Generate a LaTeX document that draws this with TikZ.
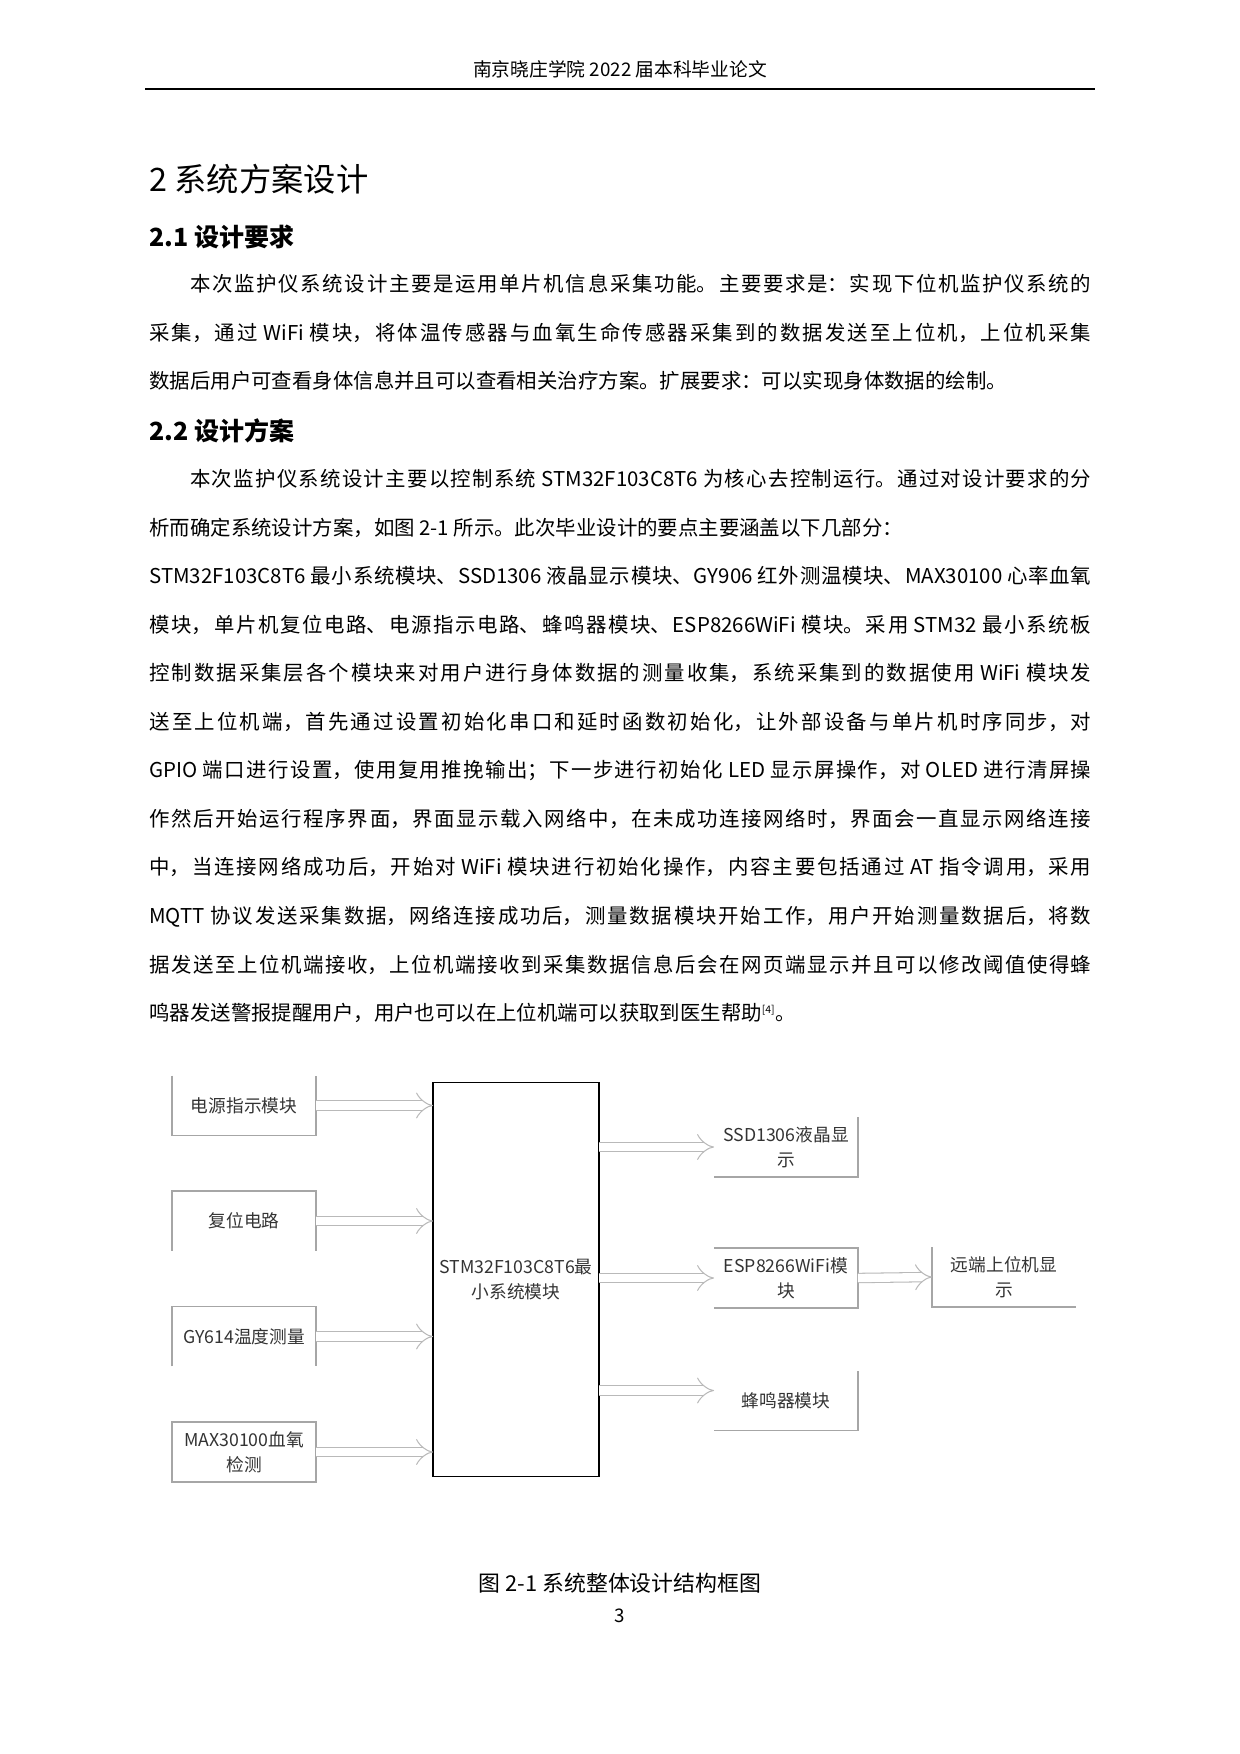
\documentclass[tikz,border=0pt]{standalone}
\usepackage{fontspec}
\setmainfont{Noto Sans CJK SC}
\usetikzlibrary{arrows.meta,calc}
\XeTeXlinebreaklocale "zh"
\XeTeXlinebreakskip=0pt plus 2pt minus 0.3pt
\begin{document}
\begin{tikzpicture}[x=0.48pt,y=-0.48pt,
  para/.style={anchor=north west,inner sep=0pt,text width={942*0.48pt},align=justify,font=\fontsize{9.8pt}{23.3pt}\selectfont},
  box/.style={minimum width={143*0.48pt},minimum height={59*0.48pt},inner sep=1pt,align=center,font=\fontsize{8.5pt}{12pt}\selectfont,text=black!80},
  edge/.style={draw=gray!70,line width=0.7pt},
  arr/.style={draw=gray!55,double=white,double distance=4pt,line width=0.5pt,-{Implies}}]
\useasboundingbox (0,0) rectangle (1240,1754);
\node[font=\fontsize{9pt}{11pt}\selectfont] (hdr) at (620,69) {南京晓庄学院 2022 届本科毕业论文};
\coordinate (hl) at (145,89); \coordinate (hr) at (1095,89);
\draw[line width=0.8pt] (hl) -- (hr);
\node[anchor=west,inner sep=0pt,font=\fontsize{15.5pt}{18pt}\selectfont] (h1) at (149,179) {2 系统方案设计};
\node[anchor=west,inner sep=0pt,font=\fontsize{12pt}{14pt}\selectfont\bfseries] (h2) at (149,237) {2.1 设计要求};
\node[para] (p1) at (149,274) {\hspace*{2em}本次监护仪系统设计主要是运用单片机信息采集功能。主要要求是：实现下位机监护仪系统的\linebreak
采集，通过 WiFi 模块，将体温传感器与血氧生命传感器采集到的数据发送至上位机，上位机采集\linebreak
数据后用户可查看身体信息并且可以查看相关治疗方案。扩展要求：可以实现身体数据的绘制。};
\node[anchor=west,inner sep=0pt,font=\fontsize{12pt}{14pt}\selectfont\bfseries] (h3) at (149,431) {2.2 设计方案};
\node[para] (p2) at (149,469) {\hspace*{2em}本次监护仪系统设计主要以控制系统 STM32F103C8T6 为核心去控制运行。通过对设计要求的分\linebreak
析而确定系统设计方案，如图 2-1 所示。此次毕业设计的要点主要涵盖以下几部分：\\
STM32F103C8T6 最小系统模块、SSD1306 液晶显示模块、GY906 红外测温模块、MAX30100 心率血氧\linebreak
模块，单片机复位电路、电源指示电路、蜂鸣器模块、ESP8266WiFi 模块。采用 STM32 最小系统板\linebreak
控制数据采集层各个模块来对用户进行身体数据的测量收集，系统采集到的数据使用 WiFi 模块发\linebreak
送至上位机端，首先通过设置初始化串口和延时函数初始化，让外部设备与单片机时序同步，对\linebreak
GPIO 端口进行设置，使用复用推挽输出；下一步进行初始化 LED 显示屏操作，对 OLED 进行清屏操\linebreak
作然后开始运行程序界面，界面显示载入网络中，在未成功连接网络时，界面会一直显示网络连接\linebreak
中，当连接网络成功后，开始对 WiFi 模块进行初始化操作，内容主要包括通过 AT 指令调用，采用\linebreak
MQTT 协议发送采集数据，网络连接成功后，测量数据模块开始工作，用户开始测量数据后，将数\linebreak
据发送至上位机端接收，上位机端接收到采集数据信息后会在网页端显示并且可以修改阈值使得蜂\linebreak
鸣器发送警报提醒用户，用户也可以在上位机端可以获取到医生帮助\textsuperscript{\tiny[4]}。};
% diagram
\node[box] (b1) at (244,1105.5) {电源指示模块};
\node[box] (b2) at (244,1221) {复位电路};
\node[box] (b3) at (244,1336.5) {GY614温度测量};
\node[box] (b4) at (244,1452) {MAX30100血氧\\检测};
\node[box,minimum width={165*0.48pt},minimum height={393*0.48pt}] (c) at (516,1279.5) {STM32F103C8T6最\\小系统模块};
\node[box] (r1) at (786,1147) {SSD1306液晶显\\示};
\node[box] (r2) at (786,1278) {ESP8266WiFi模\\块};
\node[box] (r3) at (786,1400.5) {蜂鸣器模块};
\node[box] (r4) at (1004,1277) {远端上位机显\\示};
\draw[edge] (b1.north west) -- (b1.south west) -- (b1.south east) -- (b1.north east);
\draw[edge] (b2.south west) -- (b2.north west) -- (b2.north east) -- (b2.south east);
\draw[edge] (b3.south west) -- (b3.north west) -- (b3.north east) -- (b3.south east);
\draw[edge] (b4.south west) rectangle (b4.north east);
\draw[line width=0.8pt] (c.south west) rectangle (c.north east);
\draw[edge] (r1.south west) -- (r1.south east) -- (r1.north east);
\draw[edge] (r2.north west) -- (r2.north east) -- (r2.south east) -- (r2.south west);
\draw[edge] (r3.south west) -- (r3.south east) -- (r3.north east);
\draw[edge] (r4.north west) -- (r4.south west) -- (r4.south east);
\draw[arr] (b1.east) -- (c.west |- b1.east);
\draw[arr] (b2.east) -- (c.west |- b2.east);
\draw[arr] (b3.east) -- (c.west |- b3.east);
\draw[arr] (b4.east) -- (c.west |- b4.east);
\draw[arr] (c.east |- r1.west) -- (r1.west);
\draw[arr] (c.east |- r2.west) -- (r2.west);
\coordinate (r3in) at ($(r3.west)+(0,-10)$);
\draw[arr] (c.east |- r3in) -- (r3in);
\draw[arr] (r2.east) -- (r4.west);
\node[font=\fontsize{10.5pt}{12pt}\selectfont] (cap) at (620,1583) {图 2-1 系统整体设计结构框图};
\node[font=\fontsize{9pt}{11pt}\selectfont] (pg) at (620,1616) {3};
\end{tikzpicture}
\end{document}
